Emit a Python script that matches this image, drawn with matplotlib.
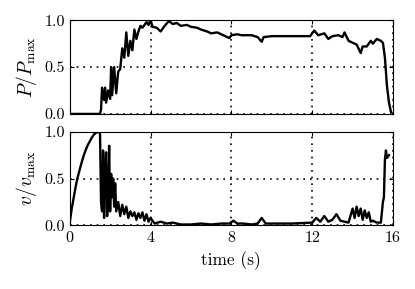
import matplotlib
matplotlib.use("Agg")
import matplotlib.pyplot as plt

plt.rcParams['font.family'] = ['cmr10', 'DejaVu Serif']
plt.rcParams['mathtext.fontset'] = 'cm'
plt.rcParams['axes.formatter.use_mathtext'] = True
plt.rcParams['font.size'] = 11

# power (normalised)
t_p = [0, 1.5, 1.55, 1.6, 1.7, 1.75, 1.8, 1.9, 2.0, 2.05, 2.1, 2.2, 2.3, 2.4, 2.5,
       2.6, 2.7, 2.8, 2.9, 3.0, 3.1, 3.2, 3.3, 3.4, 3.5, 3.6, 3.8, 3.9, 4.0, 4.1,
       4.3, 4.5, 4.7, 4.9, 5.1, 5.3, 5.5, 5.8, 6.0, 6.3, 6.5, 6.8, 7.0, 7.3, 7.5, 7.9,
       8.0, 8.3, 8.5, 9.0, 9.3, 9.5, 9.6, 10.0, 11.0, 11.9, 12.1, 12.3, 12.6, 12.8,
       13.0, 13.3, 13.5, 13.6, 13.8, 14.0, 14.2, 14.4, 14.5, 14.7, 14.9, 15.0, 15.2,
       15.4, 15.5, 15.6, 15.7, 15.8, 15.9]
p_norm = [0, 0, 0.05, 0.28, 0.15, 0.28, 0.12, 0.25, 0.16, 0.5, 0.2, 0.5, 0.22, 0.45, 0.48,
          0.7, 0.6, 0.87, 0.62, 0.78, 0.68, 0.9, 0.8, 0.88, 0.94, 0.92, 0.98, 0.95, 1.0, 0.93,
          0.92, 0.88, 0.94, 0.99, 0.96, 0.97, 0.94, 0.95, 0.93, 0.92, 0.9, 0.88, 0.86, 0.87,
          0.85, 0.81, 0.84, 0.85, 0.84, 0.84, 0.82, 0.77, 0.82, 0.83, 0.83, 0.83, 0.89, 0.84,
          0.86, 0.8, 0.83, 0.84, 0.82, 0.87, 0.78, 0.76, 0.74, 0.65, 0.72, 0.72, 0.78, 0.75,
          0.8, 0.78, 0.76, 0.6, 0.3, 0.12, 0.02]

# velocity (normalised)
t_v = [0, 0.1, 0.2, 0.3, 0.4, 0.5, 0.6, 0.7, 0.8, 0.9, 1.0, 1.1, 1.2, 1.3, 1.45,
       1.5, 1.55, 1.6, 1.65, 1.7, 1.75, 1.8, 1.85, 1.9, 1.95, 2.0, 2.05, 2.1, 2.15,
       2.2, 2.25, 2.3, 2.4, 2.5, 2.6, 2.7, 2.8, 2.9, 3.0, 3.1, 3.2, 3.3, 3.4, 3.5,
       3.6, 3.7, 3.8, 3.9, 4.0, 4.2, 4.5, 4.8, 5.1, 5.5, 6.0, 6.5, 7.0, 7.5, 7.9,
       8.1, 8.3, 8.6, 9.0, 9.3, 9.5, 9.7, 10.0, 11.0, 12.0, 12.2, 12.4, 12.6, 12.8,
       13.0, 13.2, 13.4, 13.6, 13.8, 14.0, 14.1, 14.2, 14.3, 14.4, 14.5, 14.6, 14.7,
       14.8, 14.9, 15.0, 15.2, 15.4, 15.5, 15.55, 15.6, 15.65, 15.7, 15.8]
v_norm = [0.03, 0.18, 0.3, 0.42, 0.52, 0.6, 0.68, 0.75, 0.81, 0.86, 0.9, 0.94, 0.97, 0.99, 1.0,
          0.98, 0.25, 0.15, 0.8, 0.08, 0.6, 0.78, 0.1, 0.25, 0.85, 0.15, 0.55, 0.3, 0.5,
          0.2, 0.45, 0.15, 0.25, 0.1, 0.22, 0.12, 0.2, 0.08, 0.15, 0.1, 0.14, 0.06, 0.13, 0.08,
          0.14, 0.05, 0.12, 0.04, 0.08, 0.02, 0.04, 0.02, 0.03, 0.01, 0.01, 0.02, 0.01, 0.02, 0.02,
          0.05, 0.02, 0.02, 0.01, 0.02, 0.08, 0.02, 0.02, 0.02, 0.03, 0.08, 0.04, 0.1, 0.04,
          0.06, 0.12, 0.05, 0.04, 0.03, 0.18, 0.08, 0.2, 0.1, 0.18, 0.06, 0.16, 0.08,
          0.14, 0.04, 0.05, 0.03, 0.03, 0.25, 0.3, 0.7, 0.8, 0.72, 0.75]

y_ticks = [0.0, 0.5, 1.0]
x_ticks = [0, 4, 8, 12, 16]

fig, (ax1, ax2) = plt.subplots(2, 1, figsize=(4.15, 2.89), dpi=100, sharex=True)
fig.subplots_adjust(left=0.168, right=0.947, top=0.93, bottom=0.22, hspace=0.19)

ax1.plot(t_p, p_norm, color='black', lw=1.7)
ax2.plot(t_v, v_norm, color='black', lw=1.7)

for ax in (ax1, ax2):
    ax.set_xlim(0, 16)
    ax.set_ylim(0, 1)
    ax.set_yticks(y_ticks)
    ax.set_xticks(x_ticks)
    ax.tick_params(direction='in', top=True, right=True, length=3, labelsize=11.5)
    ax.grid(True, color='black', linestyle=(0, (1, 3)), lw=1.2)
    ax.set_yticklabels(['0.0', '0.5', '1.0'])

ax1.set_ylabel(r'$P/P_\mathrm{max}$', fontsize=14)
ax2.set_ylabel(r'$v/v_\mathrm{max}$', fontsize=14)
ax2.set_xlabel('time (s)', fontsize=12.5)

fig.savefig('out.png', dpi=100)
